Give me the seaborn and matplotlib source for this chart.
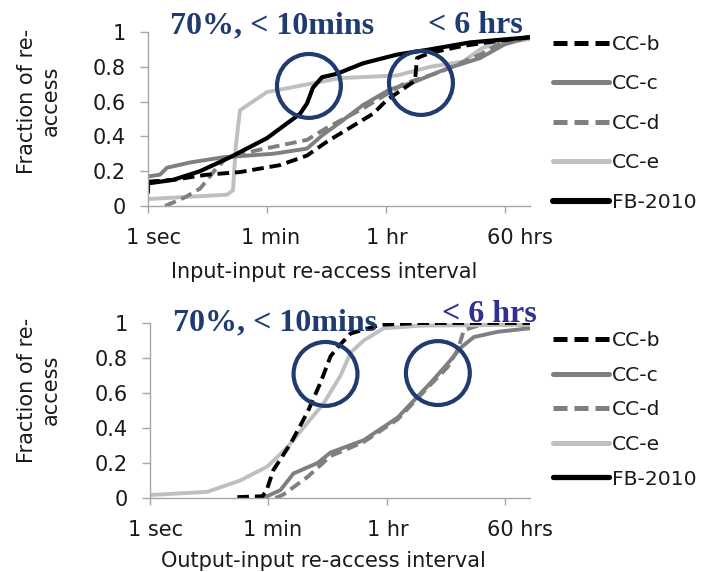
import numpy as np
import pandas as pd
import matplotlib
matplotlib.use("Agg")
import matplotlib.pyplot as plt
from matplotlib.lines import Line2D
from matplotlib.transforms import ScaledTranslation
import seaborn as sns

# ---------------- data (seconds, fraction) ----------------
series_names = ["CC-b", "CC-c", "CC-d", "CC-e", "FB-2010"]
tick_secs = [1, 60, 3600, 216000]
tick_labels = ["1 sec", "1 min", "1 hr", "60 hrs"]
ytick_vals = [0, 0.2, 0.4, 0.6, 0.8, 1]
ytick_labels = ["0", "0.2", "0.4", "0.6", "0.8", "1"]

# Top panel: input-input re-access interval
top_fb_x = [1, 1, 2.36, 6.0, 16.8, 60, 187, 238, 292, 398, 667, 1630, 5260, 16400, 64900, 511000]
top_fb_y = [0.08, 0.13, 0.15, 0.20, 0.28, 0.39, 0.53, 0.59, 0.68, 0.74, 0.76, 0.82, 0.87, 0.90, 0.94, 0.97]
top_b_x = [1, 2.36, 7.6, 23.7, 93.8, 238, 473, 1043, 2303, 3725, 6920, 9770, 10470, 16400, 50900, 182000, 511000]
top_b_y = [0.14, 0.15, 0.18, 0.195, 0.235, 0.29, 0.37, 0.45, 0.53, 0.61, 0.68, 0.72, 0.85, 0.88, 0.92, 0.95, 0.97]
top_c_x = [1, 1.51, 1.92, 4.24, 13.2, 73.8, 238, 412, 740, 1630, 4130, 9120, 29400, 91400, 216000, 511000]
top_c_y = [0.17, 0.18, 0.22, 0.25, 0.28, 0.30, 0.33, 0.41, 0.48, 0.58, 0.67, 0.71, 0.79, 0.85, 0.93, 0.97]
top_d_x = [1.8, 3.57, 6.0, 10.7, 15.2, 42.5, 238, 473, 1630, 6460, 23100, 91400, 216000, 511000]
top_d_y = [0.0, 0.05, 0.10, 0.22, 0.28, 0.32, 0.38, 0.45, 0.56, 0.70, 0.77, 0.87, 0.95, 0.97]
top_e_x = [1, 15.2, 18.6, 20.6, 23.7, 28.2, 60, 132, 740, 5260, 16400, 50900, 101000, 216000, 511000]
top_e_y = [0.04, 0.065, 0.09, 0.35, 0.55, 0.57, 0.655, 0.68, 0.735, 0.75, 0.80, 0.83, 0.91, 0.94, 0.96]

# Bottom panel: output-input re-access interval
bot_b_x = [20.5, 48.7, 56, 71.4, 129, 232, 365, 516, 657, 1030, 2920, 11700, 511000]
bot_b_y = [0.005, 0.01, 0.04, 0.16, 0.31, 0.49, 0.66, 0.81, 0.86, 0.94, 0.99, 1.0, 1.0]
bot_c_x = [50.4, 91, 143, 329, 516, 1620, 5270, 16600, 29900, 46900, 73600, 169000, 511000]
bot_c_y = [0.0, 0.045, 0.14, 0.20, 0.26, 0.33, 0.46, 0.66, 0.77, 0.86, 0.92, 0.95, 0.97]
bot_d_x = [76.5, 101, 232, 516, 1620, 5270, 16600, 29900, 35500, 42300, 52100, 94000, 511000]
bot_d_y = [0.0, 0.02, 0.12, 0.24, 0.32, 0.45, 0.65, 0.75, 0.80, 0.85, 0.96, 0.99, 0.99]
bot_e_x = [1, 7.2, 22.7, 58, 116, 232, 405, 730, 1030, 1620, 3250, 11700, 511000]
bot_e_y = [0.017, 0.035, 0.10, 0.18, 0.29, 0.43, 0.54, 0.70, 0.83, 0.90, 0.97, 0.985, 0.99]

# ---------------- styles ----------------
colors = {"CC-b": "#000000", "CC-c": "#7F7F7F", "CC-d": "#7F7F7F",
          "CC-e": "#BFBFBF", "FB-2010": "#000000"}
dashed = {"CC-b": True, "CC-c": False, "CC-d": True, "CC-e": False, "FB-2010": False}
navy = "#1F3B70"

sns.set_theme(style="white")
plt.rcParams["font.family"] = ["DejaVu Sans"]

W, H = 712, 572
fig = plt.figure(figsize=(W / 100, H / 100), dpi=100)


def fx(px):
    return px / W


def fy(py):
    return 1 - py / H


ax_top = fig.add_axes([fx(148), fy(206), (530 - 148) / W, (206 - 32) / H])
ax_bot = fig.add_axes([fx(150), fy(498), (530 - 150) / W, (498 - 323) / H])

top_data = {"CC-e": (top_e_x, top_e_y), "CC-d": (top_d_x, top_d_y),
            "CC-c": (top_c_x, top_c_y), "CC-b": (top_b_x, top_b_y),
            "FB-2010": (top_fb_x, top_fb_y)}
bot_data = {"CC-c": (bot_c_x, bot_c_y), "CC-d": (bot_d_x, bot_d_y),
            "CC-e": (bot_e_x, bot_e_y), "CC-b": (bot_b_x, bot_b_y)}

TXT = "#1a1a1a"
FS = 15
label_shift_px = [6, 4, 1, 15]


def draw(ax, data):
    for name, (xs, ys) in data.items():
        df = pd.DataFrame({"seconds": xs, "fraction": ys})
        lw = 3.0 if name == "FB-2010" else 2.8
        sns.lineplot(data=df, x="seconds", y="fraction", ax=ax, estimator=None,
                     sort=False, color=colors[name], linewidth=lw,
                     linestyle=(0, (3.0, 1.5)) if dashed[name] else "-",
                     legend=False)
    ax.set_xscale("log")
    ax.set_xlim(1, 511000)
    ax.set_ylim(0, 1)
    ax.set_xticks(tick_secs)
    ax.set_xticklabels(tick_labels)
    ax.minorticks_off()
    ax.set_yticks(ytick_vals)
    ax.set_yticklabels(ytick_labels)
    ax.set_xlabel("")
    ax.set_ylabel("")
    for s in ["top", "right"]:
        ax.spines[s].set_visible(False)
    for s in ["left", "bottom"]:
        ax.spines[s].set_color("#A6A6A6")
        ax.spines[s].set_linewidth(1.0)
    ax.tick_params(axis="x", direction="out", length=5, width=1.0, color="#A6A6A6",
                   labelsize=FS, pad=11, labelcolor=TXT, bottom=True)
    ax.tick_params(axis="y", direction="out", length=6, width=1.0, color="#A6A6A6",
                   labelsize=FS, pad=10, labelcolor=TXT, left=True)
    for lab, off in zip(ax.get_xticklabels(), label_shift_px):
        lab.set_transform(lab.get_transform() +
                          ScaledTranslation(off / 100, 0, fig.dpi_scale_trans))
    ax.patch.set_alpha(0)


draw(ax_top, top_data)
draw(ax_bot, bot_data)


def legend(ax, spacing, fb_lw, anchor_y):
    handles = []
    for name in series_names:
        lw = fb_lw if name == "FB-2010" else 3.6
        handles.append(Line2D([], [], color=colors[name], linewidth=lw,
                              linestyle=(0, (2.8, 1.4)) if dashed[name] else "-"))
    return ax.legend(handles, series_names, loc="upper left",
                     bbox_to_anchor=(1.04, anchor_y), frameon=False, fontsize=14.6,
                     handlelength=2.75, handletextpad=0.12, labelspacing=spacing,
                     borderaxespad=0, labelcolor=TXT)


legend(ax_top, 1.01, 4.4, 1.03)
legend(ax_bot, 0.77, 3.8, 1.0)

# axis titles
fig.text(fx(39), fy(101), "Fraction of re-\naccess", rotation=90, ha="center",
         va="center", multialignment="center", fontsize=FS, color=TXT)
fig.text(fx(39), fy(390), "Fraction of re-\naccess", rotation=90, ha="center",
         va="center", multialignment="center", fontsize=FS, color=TXT)
fig.text(fx(324), fy(278), "Input-input re-access interval", ha="center",
         va="baseline", fontsize=FS, color=TXT)
fig.text(fx(323), fy(567), "Output-input re-access interval", ha="center",
         va="baseline", fontsize=FS, color=TXT)

# annotations
serif = ["Liberation Serif", "DejaVu Serif"]
fig.text(fx(170), fy(33), "70%, < 10mins", family=serif, fontweight="bold",
         fontsize=23, color=navy, va="baseline")
fig.text(fx(428), fy(33), "< 6 hrs", family=serif, fontweight="bold",
         fontsize=23, color=navy, va="baseline")
fig.text(fx(173), fy(330), "70%, < 10mins", family=serif, fontweight="bold",
         fontsize=23, color=navy, va="baseline")
fig.text(fx(442), fy(322), "< 6 hrs", family=serif, fontweight="bold",
         fontsize=23, color="#2E3192", va="baseline")

# highlight circles
ax_top.scatter([254, 12000], [0.69, 0.707], s=2116, facecolors="none",
               edgecolors=navy, linewidths=3, zorder=10, clip_on=False)
ax_bot.scatter([433, 21100], [0.709, 0.714], s=2116, facecolors="none",
               edgecolors=navy, linewidths=3, zorder=10, clip_on=False)

fig.savefig("out.png", dpi=100)
